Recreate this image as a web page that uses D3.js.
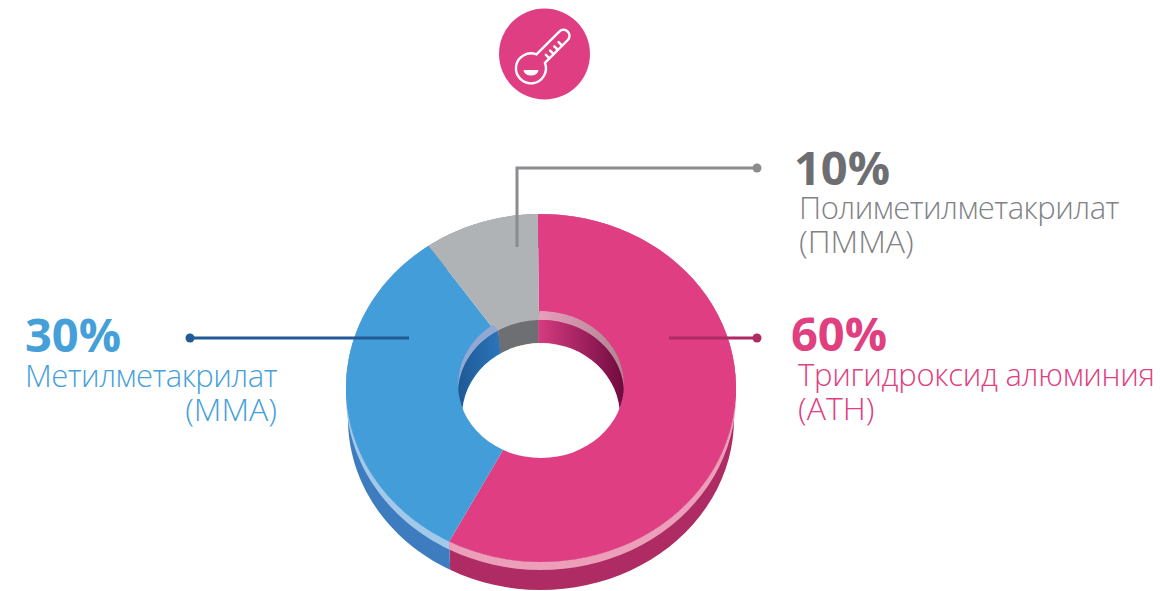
<!DOCTYPE html>
<html>
<head>
<meta charset="utf-8">
<script src="https://d3js.org/d3.v7.min.js"></script>
<style>
    body { margin: 0; background: #fff; }
    text { font-family: "Open Sans", sans-serif; }
    .pct { font-weight: 700; font-size: 47px; }
    .name1 { font-weight: 300; font-size: 31px; letter-spacing: -0.52px; }
    .name2 { font-weight: 300; font-size: 32px; }
</style>
</head>
<body>
<svg id="chart" width="1160" height="591"></svg>
<script>
    // labels as printed on the picture
    const percents = ["60%", "30%", "10%"];
    const namesLine1 = ["Тригидроксид алюминия", "Метилметакрилат", "Полиметилметакрилат"];
    const namesLine2 = ["(ATH)", "(MMA)", "(ПММА)"];
    // slice shares as they are actually drawn (the picture is not true to its labels)
    const drawnShares = [58.05, 32.43, 9.52];
    // where the slices cut the inner wall, in degrees clockwise from the top
    const wallCuts = [-2, 207, 329, 358];

    const topColors = ["#df3e83", "#439dd9", "#b0b3b6"];
    const bandColors = ["#eb9fb9", "#a3c9ea", "#b0b3b6"];
    const sideColors = ["#ae2b63", "#3e7cc0", "#8a8c8e"];
    const textColors = ["#e0407f", "#45a0da", "#808285"];
    const pctColors = ["#e0407f", "#45a0da", "#6d6e71"];

    const svg = d3.select("#chart");
    const defs = svg.append("defs");
    const rad = d => d * Math.PI / 180;

    // ellipses of the fake 3d ring
    const topE = { cx: 541, cy: 388, rx: 195, ry: 174 };
    const bandE = { cx: 541, cy: 396, rx: 195, ry: 174 };
    const sideE = { cx: 541, cy: 419, rx: 193, ry: 171 };
    const holeE = { cx: 541, cy: 384.5, rx: 83, ry: 73.5 };
    const rimE = { cx: 541, cy: 393.5, rx: 83, ry: 73.5 };
    const seeE = { cx: 541, cy: 416.5, rx: 79, ry: 73.5 };
    const apexX = 539.5;

    const slices = d3.pie().sort(null)
        .startAngle(rad(-0.9)).endAngle(rad(359.1))(drawnShares);

    const pt = (e, a) => [e.cx + e.rx * Math.sin(a), e.cy - e.ry * Math.cos(a)];
    const arcPts = (e, a0, a1) => d3.range(0, 61).map(i => pt(e, a0 + (a1 - a0) * i / 60));
    const line = d3.line();

    // strip between two ellipses
    function band(e1, a0, a1, e2, b0, b1) {
        return line(arcPts(e1, a0, a1).concat(arcPts(e2, b1, b0))) + "Z";
    }
    function wedge(e, a0, a1) {
        return line([[apexX, e.cy]].concat(arcPts(e, a0, a1))) + "Z";
    }
    function gradient(id, x1, x2, c1, c2) {
        const g = defs.append("linearGradient").attr("id", id)
            .attr("gradientUnits", "userSpaceOnUse")
            .attr("x1", x1).attr("x2", x2).attr("y1", 0).attr("y2", 0);
        g.append("stop").attr("offset", 0).attr("stop-color", c1);
        g.append("stop").attr("offset", 1).attr("stop-color", c2);
    }

    gradient("wallPink", 538, 624, "#d63c80", "#6f0a3f");
    gradient("wallBlue", 460, 500, "#1f5a96", "#2c75ba");
    gradient("rimPink", 538, 624, "#e89fbc", "#ad8791");
    const wallFills = ["url(#wallPink)", "url(#wallBlue)", "#6e6f72"];
    const rimFills = ["url(#rimPink)", "#93a7d3", "#b0b3b6"];

    // outer side, then the pale band, then the top face
    svg.append("g").selectAll("path").data(slices).join("path")
        .attr("d", d => band(topE, d.startAngle, d.endAngle, sideE, d.startAngle, d.endAngle))
        .attr("fill", (d, i) => sideColors[i]);
    svg.append("g").selectAll("path").data(slices).join("path")
        .attr("d", d => band(topE, d.startAngle, d.endAngle, bandE, d.startAngle, d.endAngle))
        .attr("fill", (d, i) => bandColors[i]);
    svg.append("g").selectAll("path").data(slices).join("path")
        .attr("d", d => wedge(topE, d.startAngle, d.endAngle))
        .attr("fill", (d, i) => topColors[i]);

    // the hole: inner wall and rim clipped to the hole ellipse, white on top
    defs.append("clipPath").attr("id", "holeClip").append("ellipse")
        .attr("cx", holeE.cx).attr("cy", holeE.cy).attr("rx", holeE.rx).attr("ry", holeE.ry);
    const hole = svg.append("g").attr("clip-path", "url(#holeClip)");

    hole.selectAll("path.rim").data(slices).join("path")
        .attr("class", "rim")
        .attr("d", (d, i) => band(holeE, d.startAngle, d.endAngle, rimE, rad(wallCuts[i]), rad(wallCuts[i + 1])))
        .attr("fill", (d, i) => rimFills[i]);
    hole.selectAll("path.wall").data(slices).join("path")
        .attr("class", "wall")
        .attr("d", (d, i) => band(rimE, rad(wallCuts[i]), rad(wallCuts[i + 1]), seeE, rad(wallCuts[i]), rad(wallCuts[i + 1])))
        .attr("fill", (d, i) => wallFills[i]);
    hole.append("ellipse")
        .attr("cx", seeE.cx).attr("cy", seeE.cy).attr("rx", seeE.rx).attr("ry", seeE.ry)
        .attr("fill", "#fff");

    // leader lines
    const leaders = [
        { pts: [[669, 338], [757, 338]], color: "#ae2b63" },
        { pts: [[409, 338], [190, 338]], color: "#225a96" },
        { pts: [[517, 247], [517, 168], [757, 168]], color: "#8a8c8e" }
    ];
    leaders.forEach(l => {
        svg.append("path").attr("d", line(l.pts))
            .attr("fill", "none").attr("stroke", l.color).attr("stroke-width", 3);
        const end = l.pts[l.pts.length - 1];
        svg.append("circle").attr("cx", end[0]).attr("cy", end[1]).attr("r", 4.5).attr("fill", l.color);
    });

    // labels
    const labelPos = [
        { x: 791, nx: 798, y: 351, y1: 386, y2: 420, anchor2: "start", spacing: "-0.28px" },
        { x: 25, nx: 25, y: 352, y1: 387, y2: 421, anchor2: "end", x2: 277, spacing: "-0.52px" },
        { x: 794, nx: 799, y: 185, y1: 219, y2: 253, anchor2: "start", spacing: "-0.52px" }
    ];
    labelPos.forEach((p, i) => {
        svg.append("text").attr("class", "pct").attr("x", p.x).attr("y", p.y)
            .attr("fill", pctColors[i]).text(percents[i]);
        svg.append("text").attr("class", "name1").attr("x", p.nx).attr("y", p.y1)
            .style("letter-spacing", p.spacing)
            .attr("fill", textColors[i]).text(namesLine1[i]);
        svg.append("text").attr("class", "name2").attr("x", p.x2 || p.nx).attr("y", p.y2)
            .attr("text-anchor", p.anchor2).attr("fill", textColors[i]).text(namesLine2[i]);
    });

    // thermometer icon
    const icon = svg.append("g");
    icon.append("circle").attr("cx", 544.5).attr("cy", 54).attr("r", 45.5).attr("fill", "#df3e83");
    const thermo = icon.append("g")
        .attr("transform", "translate(531,68.3) rotate(-45)")
        .attr("fill", "none").attr("stroke", "#fff").attr("stroke-width", 2.4)
        .attr("stroke-linecap", "round");
    thermo.append("path").attr("d", "M13.7,-6 L46,-6 A6,6 0 0 1 46,6 L13.7,6 A15,15 0 1 1 13.7,-6 Z");
    [20, 26, 32, 38].forEach(x => {
        thermo.append("path").attr("d", `M${x},6 L${x},1`);
    });
    icon.append("path").attr("d", "M523.5,70 A7.5,5.5 0 0 0 538.5,70 Z").attr("fill", "#fff");
</script>
</body>
</html>
